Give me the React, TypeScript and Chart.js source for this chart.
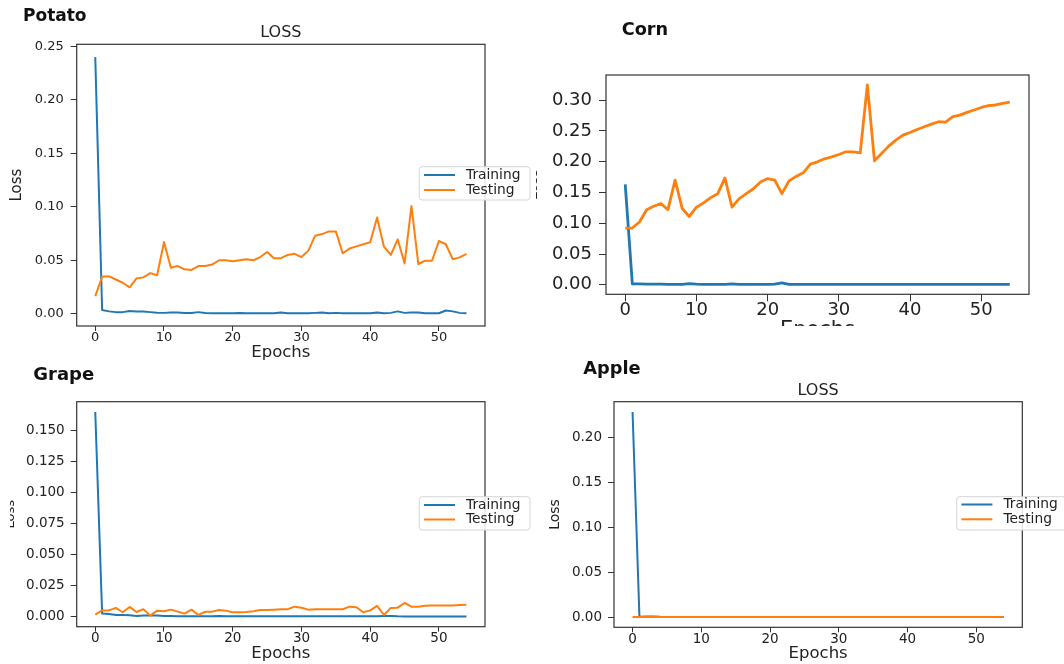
import React, { useEffect, useRef } from "react";
import { Chart, registerables } from "chart.js";

Chart.register(...registerables);
Chart.defaults.font.family = '"DejaVu Sans", sans-serif';

// ---------------- data ----------------
const epochs = [
  0, 1, 2, 3, 4, 5, 6, 7, 8, 9,
  10, 11, 12, 13, 14, 15, 16, 17, 18, 19,
  20, 21, 22, 23, 24, 25, 26, 27, 28, 29,
  30, 31, 32, 33, 34, 35, 36, 37, 38, 39,
  40, 41, 42, 43, 44, 45, 46, 47, 48, 49,
  50, 51, 52, 53, 54,
];
const xTicks = [0, 10, 20, 30, 40, 50];
const seriesLabels = ["Training", "Testing"];

const potatoTrain = [
  0.24, 0.0035, 0.0022, 0.0015, 0.0015, 0.0025, 0.0022, 0.002, 0.0015, 0.001,
  0.0008, 0.0012, 0.0012, 0.0006, 0.0006, 0.0015, 0.0006, 0.0005, 0.0005, 0.0005,
  0.0005, 0.0006, 0.0005, 0.0005, 0.0005, 0.0005, 0.0005, 0.0012, 0.0005, 0.0005,
  0.0005, 0.0005, 0.0008, 0.0012, 0.0005, 0.0008, 0.0005, 0.0005, 0.0005, 0.0005,
  0.0005, 0.0012, 0.0005, 0.0008, 0.0022, 0.0008, 0.0012, 0.0012, 0.0005, 0.0005,
  0.0005, 0.003, 0.0022, 0.0008, 0.0005,
];
const potatoTest = [
  0.0165, 0.0346, 0.035, 0.032, 0.029, 0.0247, 0.033, 0.034, 0.038, 0.036,
  0.067, 0.043, 0.0446, 0.0415, 0.041, 0.0446, 0.0446, 0.046, 0.05, 0.05,
  0.049, 0.05, 0.051, 0.05, 0.053, 0.0577, 0.052, 0.052, 0.055, 0.056,
  0.053, 0.059, 0.073, 0.0745, 0.077, 0.077, 0.0565, 0.061, 0.063, 0.065,
  0.0668, 0.09, 0.0627, 0.055, 0.0696, 0.047, 0.1008, 0.0465, 0.0496, 0.0496,
  0.068, 0.065, 0.051, 0.0527, 0.056,
];
const potatoYTicks = [0, 0.05, 0.1, 0.15, 0.2, 0.25];

const cornTrain = [
  0.163, 0.0015, 0.0015, 0.0012, 0.001, 0.001, 0.0008, 0.0008, 0.0008, 0.002,
  0.001, 0.0008, 0.0008, 0.0008, 0.0008, 0.0015, 0.0008, 0.0008, 0.0008, 0.0008,
  0.0008, 0.0012, 0.003, 0.0008, 0.0008, 0.0008, 0.0008, 0.0008, 0.0008, 0.0008,
  0.0008, 0.0008, 0.0008, 0.0008, 0.0008, 0.0008, 0.0008, 0.0008, 0.0008, 0.0008,
  0.0008, 0.0008, 0.0008, 0.0008, 0.0008, 0.0008, 0.0008, 0.0008, 0.0008, 0.0008,
  0.0008, 0.0008, 0.0008, 0.0008, 0.0008,
];
const cornTest = [
  0.0922, 0.0922, 0.102, 0.122, 0.1275, 0.132, 0.122, 0.17, 0.124, 0.111,
  0.126, 0.133, 0.1416, 0.148, 0.1736, 0.126, 0.14, 0.148, 0.156, 0.167,
  0.1725, 0.17, 0.148, 0.1687, 0.176, 0.1818, 0.196, 0.1997, 0.2046, 0.2078,
  0.2116, 0.216, 0.216, 0.2143, 0.3245, 0.2013, 0.2132, 0.2252, 0.235, 0.243,
  0.2474, 0.2523, 0.2567, 0.261, 0.2648, 0.2642, 0.273, 0.2756, 0.28, 0.2838,
  0.288, 0.291, 0.292, 0.2946, 0.2968,
];
const cornYTicks = [0, 0.05, 0.1, 0.15, 0.2, 0.25, 0.3];

const grapeTrain = [
  0.165, 0.0024, 0.002, 0.0013, 0.0013, 0.001, 0.0005, 0.0008, 0.0008, 0.0008,
  0.0005, 0.0004, 0.0003, 0.0003, 0.0003, 0.0003, 0.0003, 0.0003, 0.0004, 0.0003,
  0.0003, 0.0003, 0.0003, 0.0003, 0.0003, 0.0003, 0.0003, 0.0003, 0.0003, 0.0003,
  0.0003, 0.0003, 0.0003, 0.0003, 0.0003, 0.0003, 0.0003, 0.0003, 0.0003, 0.0003,
  0.0003, 0.0003, 0.0004, 0.0005, 0.0002, 0.0001, 0.0001, 0.0001, 0.0001, 0.0001,
  0.0001, 0.0001, 0.0001, 0.0001, 0.0001,
];
const grapeTest = [
  0.0016, 0.005, 0.005, 0.007, 0.0035, 0.0078, 0.0037, 0.006, 0.0008, 0.0048,
  0.0043, 0.0056, 0.004, 0.0024, 0.0056, 0.0013, 0.004, 0.004, 0.0053, 0.0048,
  0.0035, 0.0035, 0.0037, 0.0043, 0.0053, 0.0053, 0.0056, 0.0059, 0.006, 0.008,
  0.0072, 0.0056, 0.0059, 0.0059, 0.0059, 0.0059, 0.0059, 0.008, 0.0075, 0.0035,
  0.005, 0.0086, 0.0013, 0.007, 0.0072, 0.011, 0.008, 0.008, 0.0088, 0.009,
  0.009, 0.009, 0.009, 0.0094, 0.0096,
];
const grapeYTicks = [0, 0.025, 0.05, 0.075, 0.1, 0.125, 0.15];

const appleTrain = [
  0.228, 0.0006, 0.0008, 0.0008, 0.0004, 0.0003, 0.0003, 0.0003, 0.0003, 0.0003,
  0.0003, 0.0003, 0.0003, 0.0003, 0.0003, 0.0003, 0.0003, 0.0003, 0.0003, 0.0003,
  0.0003, 0.0003, 0.0003, 0.0003, 0.0003, 0.0003, 0.0003, 0.0003, 0.0003, 0.0003,
  0.0003, 0.0003, 0.0003, 0.0003, 0.0003, 0.0003, 0.0003, 0.0003, 0.0003, 0.0003,
  0.0003, 0.0003, 0.0003, 0.0003, 0.0003, 0.0003, 0.0003, 0.0003, 0.0003, 0.0003,
  0.0003, 0.0003, 0.0003, 0.0003, 0.0003,
];
const appleTest = [
  0.0002, 0.0002, 0.0002, 0.0002, 0.0002, 0.0002, 0.0002, 0.0002, 0.0002, 0.0002,
  0.0002, 0.0002, 0.0002, 0.0002, 0.0002, 0.0002, 0.0002, 0.0002, 0.0002, 0.0002,
  0.0002, 0.0002, 0.0002, 0.0002, 0.0002, 0.0002, 0.0002, 0.0002, 0.0002, 0.0002,
  0.0002, 0.0002, 0.0002, 0.0002, 0.0002, 0.0002, 0.0002, 0.0002, 0.0002, 0.0002,
  0.0002, 0.0002, 0.0002, 0.0002, 0.0002, 0.0002, 0.0002, 0.0002, 0.0002, 0.0002,
  0.0002, 0.0002, 0.0002, 0.0002, 0.0002,
];
const appleYTicks = [0, 0.05, 0.1, 0.15, 0.2];

// ---------------- styling / layout ----------------
const BLUE = "#1f77b4";
const ORANGE = "#ff7f0e";
const TEXT = "#222";
const FRAME = "#333";

// matplotlib-style auto range: data span padded by 5% on each side
function autoRange(arrs: number[][]): [number, number] {
  let lo = Infinity;
  let hi = -Infinity;
  arrs.forEach((a) => a.forEach((v) => { lo = Math.min(lo, v); hi = Math.max(hi, v); }));
  const pad = (hi - lo) * 0.05;
  return [lo - pad, hi + pad];
}

type Box = { left: number; top: number; width: number; height: number };
type PanelCfg = {
  key: string;
  name: string;
  nameX: number; nameY: number; nameSize: number;
  loss: null | { y: number; size: number };
  clip: Box;
  canvas: Box;
  area: { left: number; top: number; right: number; bottom: number };
  tickFont: number;
  xTick: { len: number; pad: number };
  yTick: { len: number; pad: number };
  yTitle: { size: number; x: number };
  xTitle: { size: number; y: number };
  legend: null | { left: number; top: number; width: number; height: number; rows: number[] };
  lineWidth: number;
  decimals: number;
  yTicks: number[];
  train: number[];
  test: number[];
};

const panels: PanelCfg[] = [
  {
    key: "potato", name: "Potato", nameX: 23, nameY: 17, nameSize: 17,
    loss: { y: 33.3, size: 16 },
    clip: { left: 0, top: 0, width: 536, height: 364 },
    canvas: { left: 0, top: 0, width: 536, height: 364 },
    area: { left: 76.7, top: 44.3, right: 485, bottom: 326 },
    tickFont: 13, xTick: { len: 5, pad: 0 }, yTick: { len: 6, pad: 7 },
    yTitle: { size: 15, x: 17.5 }, xTitle: { size: 16.5, y: 352.7 },
    legend: { left: 419.3, top: 166.7, width: 110.7, height: 33.3, rows: [175, 190] },
    lineWidth: 2, decimals: 2, yTicks: potatoYTicks, train: potatoTrain, test: potatoTest,
  },
  {
    key: "corn", name: "Corn", nameX: 621.7, nameY: 30, nameSize: 17.7,
    loss: null,
    clip: { left: 536, top: 0, width: 528, height: 326 },
    canvas: { left: 520, top: 0, width: 544, height: 340 },
    area: { left: 606, top: 75, right: 1029, bottom: 294.3 },
    tickFont: 18, xTick: { len: 7, pad: 0 }, yTick: { len: 7, pad: 7 },
    yTitle: { size: 14, x: 533.5 }, xTitle: { size: 21, y: 330.5 },
    legend: null,
    lineWidth: 2.8, decimals: 2, yTicks: cornYTicks, train: cornTrain, test: cornTest,
  },
  {
    key: "grape", name: "Grape", nameX: 33.3, nameY: 375, nameSize: 18,
    loss: null,
    clip: { left: 10, top: 360, width: 526, height: 304 },
    canvas: { left: 0, top: 360, width: 536, height: 304 },
    area: { left: 76.7, top: 401.7, right: 485, bottom: 626.7 },
    tickFont: 13.5, xTick: { len: 5, pad: 0 }, yTick: { len: 6, pad: 6 },
    yTitle: { size: 13, x: 11 }, xTitle: { size: 16.5, y: 653.3 },
    legend: { left: 419.3, top: 496.7, width: 110.7, height: 33.3, rows: [505, 519.5] },
    lineWidth: 2, decimals: 3, yTicks: grapeYTicks, train: grapeTrain, test: grapeTest,
  },
  {
    key: "apple", name: "Apple", nameX: 583.3, nameY: 369, nameSize: 17.8,
    loss: { y: 391, size: 16 },
    clip: { left: 540, top: 350, width: 524, height: 314 },
    canvas: { left: 540, top: 350, width: 524, height: 314 },
    area: { left: 614, top: 401.7, right: 1022.3, bottom: 627.3 },
    tickFont: 13.5, xTick: { len: 5, pad: 0 }, yTick: { len: 6, pad: 6 },
    yTitle: { size: 14, x: 555 }, xTitle: { size: 16.5, y: 653.3 },
    legend: { left: 956.7, top: 496.7, width: 110.7, height: 33.3, rows: [504.5, 519.3] },
    lineWidth: 2, decimals: 2, yTicks: appleYTicks, train: appleTrain, test: appleTest,
  },
];

function decorPlugin(p: PanelCfg) {
  return {
    id: "decor_" + p.key,
    afterDraw(chart: any) {
      const ctx = chart.ctx as CanvasRenderingContext2D;
      const a = chart.chartArea;
      const ox = p.canvas.left;
      const oy = p.canvas.top;
      ctx.save();
      // axes frame (all four spines)
      ctx.strokeStyle = FRAME;
      ctx.lineWidth = 1.2;
      ctx.strokeRect(a.left, a.top, a.right - a.left, a.bottom - a.top);
      // panel name
      ctx.fillStyle = "#111";
      ctx.font = `bold ${p.nameSize}px "DejaVu Sans", sans-serif`;
      ctx.textAlign = "left";
      ctx.textBaseline = "middle";
      ctx.fillText(p.name, p.nameX - ox, p.nameY - oy);
      // "LOSS" axes title
      if (p.loss) {
        ctx.fillStyle = TEXT;
        ctx.font = `${p.loss.size}px "DejaVu Sans", sans-serif`;
        ctx.textAlign = "center";
        ctx.fillText("LOSS", (a.left + a.right) / 2, p.loss.y - oy);
      }
      // legend
      if (p.legend) {
        const lg = p.legend;
        const x = lg.left - ox;
        const y = lg.top - oy;
        ctx.fillStyle = "rgba(255,255,255,0.85)";
        ctx.strokeStyle = "#d6d6d6";
        ctx.lineWidth = 1;
        ctx.beginPath();
        (ctx as any).roundRect(x, y, lg.width, lg.height, 3);
        ctx.fill();
        ctx.stroke();
        chart.data.datasets.forEach((ds: any, i: number) => {
          const ry = lg.rows[i] - oy;
          ctx.strokeStyle = ds.borderColor;
          ctx.lineWidth = 2;
          ctx.beginPath();
          ctx.moveTo(x + 4.7, ry);
          ctx.lineTo(x + 35.7, ry);
          ctx.stroke();
          ctx.fillStyle = TEXT;
          ctx.font = `13.8px "DejaVu Sans", sans-serif`;
          ctx.textAlign = "left";
          ctx.textBaseline = "middle";
          ctx.fillText(ds.label, x + 46.7, ry);
        });
      }
      ctx.restore();
    },
  };
}

function buildConfig(p: PanelCfg): any {
  const [yMin, yMax] = autoRange([p.train, p.test]);
  const [xMin, xMax] = autoRange([epochs]);
  const c = p.canvas;
  const yAxisW = p.area.left - c.left;
  const xAxisH = c.top + c.height - p.area.bottom;
  const padT = p.area.top - c.top;
  const padR = c.left + c.width - p.area.right;
  const toPts = (arr: number[]) => arr.map((v, i) => ({ x: epochs[i], y: v }));
  return {
    type: "line",
    data: {
      datasets: [
        {
          label: seriesLabels[0], data: toPts(p.train), borderColor: BLUE,
          borderWidth: p.lineWidth, pointRadius: 0, tension: 0, fill: false,
          borderJoinStyle: "round", order: 1,
        },
        {
          label: seriesLabels[1], data: toPts(p.test), borderColor: ORANGE,
          borderWidth: p.lineWidth, pointRadius: 0, tension: 0, fill: false,
          borderJoinStyle: "round", order: 0,
        },
      ],
    },
    options: {
      animation: false,
      responsive: false,
      maintainAspectRatio: false,
      events: [],
      layout: { padding: { left: 0, top: padT, right: padR, bottom: 0 } },
      plugins: { legend: { display: false }, tooltip: { enabled: false }, title: { display: false } },
      scales: {
        x: {
          type: "linear", position: "bottom", min: xMin, max: xMax,
          afterBuildTicks: (s: any) => { s.ticks = xTicks.map((v) => ({ value: v })); },
          afterFit: (s: any) => { s.height = xAxisH; },
          ticks: {
            autoSkip: false, maxRotation: 0, color: TEXT, padding: p.xTick.pad,
            font: { size: p.tickFont, lineHeight: 1 },
            callback: (v: any) => String(v),
          },
          grid: { drawOnChartArea: false, drawTicks: true, tickLength: p.xTick.len, tickColor: FRAME, lineWidth: 1 },
          border: { display: false },
          title: {
            display: true, text: "Epochs", color: TEXT,
            font: { size: p.xTitle.size, lineHeight: 1 },
            padding: c.top + c.height - p.xTitle.y - p.xTitle.size / 2,
          },
        },
        y: {
          type: "linear", position: "left", min: yMin, max: yMax,
          afterBuildTicks: (s: any) => { s.ticks = p.yTicks.map((v) => ({ value: v })); },
          afterFit: (s: any) => { s.width = yAxisW; },
          ticks: {
            color: TEXT, padding: p.yTick.pad,
            font: { size: p.tickFont, lineHeight: 1 },
            callback: (v: any) => Number(v).toFixed(p.decimals),
          },
          grid: { drawOnChartArea: false, drawTicks: true, tickLength: p.yTick.len, tickColor: FRAME, lineWidth: 1 },
          border: { display: false },
          title: {
            display: true, text: "Loss", color: TEXT,
            font: { size: p.yTitle.size, lineHeight: 1 },
            padding: p.yTitle.x - c.left - p.yTitle.size / 2,
          },
        },
      },
    },
    plugins: [decorPlugin(p)],
  };
}

function Panel({ cfg }: { cfg: PanelCfg }) {
  const ref = useRef<HTMLCanvasElement>(null);
  useEffect(() => {
    if (!ref.current) return;
    const chart = new Chart(ref.current, buildConfig(cfg));
    return () => chart.destroy();
  }, [cfg]);
  const { clip, canvas } = cfg;
  return (
    <div
      style={{
        position: "absolute", left: clip.left, top: clip.top,
        width: clip.width, height: clip.height, overflow: "hidden",
      }}
    >
      <canvas
        ref={ref}
        width={canvas.width}
        height={canvas.height}
        style={{
          position: "absolute", left: canvas.left - clip.left, top: canvas.top - clip.top,
          width: canvas.width, height: canvas.height,
        }}
      />
    </div>
  );
}

export default function App() {
  return (
    <div
      style={{
        position: "fixed", left: 0, top: 0, width: 1064, height: 664,
        overflow: "hidden", background: "#fff",
      }}
    >
      {panels.map((p) => (
        <Panel key={p.key} cfg={p} />
      ))}
    </div>
  );
}
